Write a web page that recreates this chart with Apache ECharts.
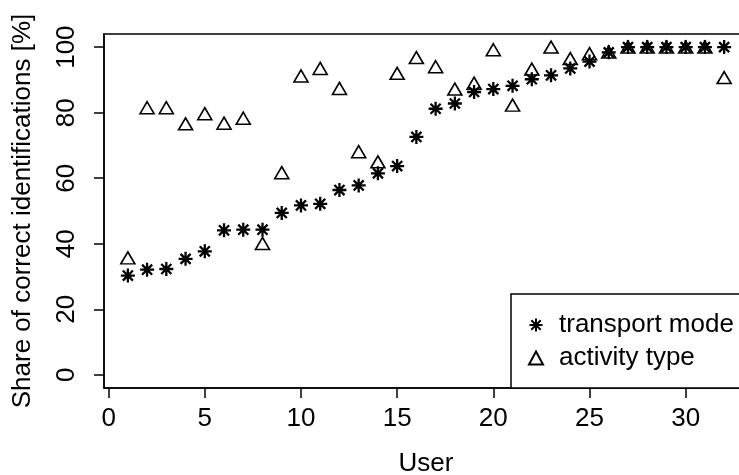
<!DOCTYPE html>
<html>
<head>
<meta charset="utf-8">
<script src="https://cdn.jsdelivr.net/npm/echarts@6/dist/echarts.min.js"></script>
<style>
  html, body { margin: 0; padding: 0; background: #fff; }
  #chart { width: 739px; height: 475px; }
</style>
</head>
<body>
<div id="chart"></div>
<script>
const users = [1, 2, 3, 4, 5, 6, 7, 8, 9, 10, 11, 12, 13, 14, 15, 16,
  17, 18, 19, 20, 21, 22, 23, 24, 25, 26, 27, 28, 29, 30, 31, 32];
const transportMode = [30.3, 32.1, 32.3, 35.4, 37.7, 44.1, 44.3, 44.3, 49.4, 51.7, 52.2, 56.4, 57.8, 61.5, 63.7, 72.6,
  81.2, 82.8, 86.3, 87.2, 88.2, 90.2, 91.4, 93.5, 95.6, 98.4, 100, 100, 100, 100, 100, 100];
const activityType = [35.7, 81.5, 81.5, 76.6, 79.7, 76.8, 78.3, 40.1, 61.7, 91.2, 93.5, 87.4, 68.1, 65.0, 92.0, 96.8,
  94.0, 87.2, 89.0, 99.2, 82.3, 93.3, 100, 96.5, 98.0, 98.5, 100, 100, 100, 100, 100, 90.7];
const xTicks = [0, 5, 10, 15, 20, 25, 30];
const yTicks = [0, 20, 40, 60, 80, 100];

const font = '"Liberation Sans", Arial, Helvetica, sans-serif';
const fs = 26;
// R's pch 8: a "+" laid over an "x"
const asterisk = 'path://M0,-1L0,1M-1,0L1,0M-0.72,-0.72L0.72,0.72M-0.72,0.72L0.72,-0.72';

const chart = echarts.init(document.getElementById('chart'));
chart.setOption({
  animation: false,
  textStyle: { fontFamily: font, color: '#000' },
  grid: {
    left: 104, top: 34, right: -9, bottom: 87,
    outerBoundsMode: 'none',
    containLabel: false,
    show: true, borderColor: '#000', borderWidth: 1.5, backgroundColor: 'transparent'
  },
  xAxis: {
    type: 'value',
    min: -0.24,
    max: 33.24,
    name: 'User',
    nameLocation: 'middle',
    nameGap: 63,
    nameTextStyle: { fontSize: fs, fontFamily: font, color: '#000' },
    axisLine: { show: true, onZero: false, lineStyle: { color: '#000', width: 1.5 } },
    axisTick: { show: true, inside: false, length: 10, customValues: xTicks, lineStyle: { color: '#000', width: 1.5 } },
    axisLabel: { customValues: xTicks, fontSize: fs, fontFamily: font, color: '#000', margin: 18 },
    splitLine: { show: false }
  },
  yAxis: {
    type: 'value',
    min: -4,
    max: 104,
    name: 'Share of correct identifications [%]',
    nameLocation: 'middle',
    nameGap: 68,
    nameTextStyle: { fontSize: fs, fontFamily: font, color: '#000' },
    axisLine: { show: true, onZero: false, lineStyle: { color: '#000', width: 1.5 } },
    axisTick: { show: true, inside: false, length: 10, customValues: yTicks, lineStyle: { color: '#000', width: 1.5 } },
    axisLabel: { customValues: yTicks, rotate: 90, fontSize: fs, fontFamily: font, color: '#000', margin: 24 },
    splitLine: { show: false }
  },
  legend: {
    orient: 'vertical',
    left: 511,
    top: 294,
    padding: [17, 40, 16, 17],
    itemGap: 5,
    itemWidth: 14,
    itemHeight: 13,
    borderColor: '#000',
    borderWidth: 1.5,
    borderRadius: 0,
    backgroundColor: '#fff',
    textStyle: { fontSize: fs, lineHeight: 28, fontFamily: font, color: '#000', padding: [0, 0, 0, 11] },
    data: ['transport mode', 'activity type']
  },
  series: [
    {
      name: 'transport mode',
      type: 'scatter',
      symbol: asterisk,
      symbolSize: 14,
      itemStyle: { color: 'transparent', borderColor: '#000', borderWidth: 2.3, opacity: 1 },
      data: users.map((u, i) => [u, transportMode[i]])
    },
    {
      name: 'activity type',
      type: 'scatter',
      symbol: 'triangle',
      symbolSize: [14, 12],
      itemStyle: { color: 'transparent', borderColor: '#000', borderWidth: 1.6, opacity: 1 },
      data: users.map((u, i) => [u, activityType[i]])
    }
  ]
});
</script>
</body>
</html>
